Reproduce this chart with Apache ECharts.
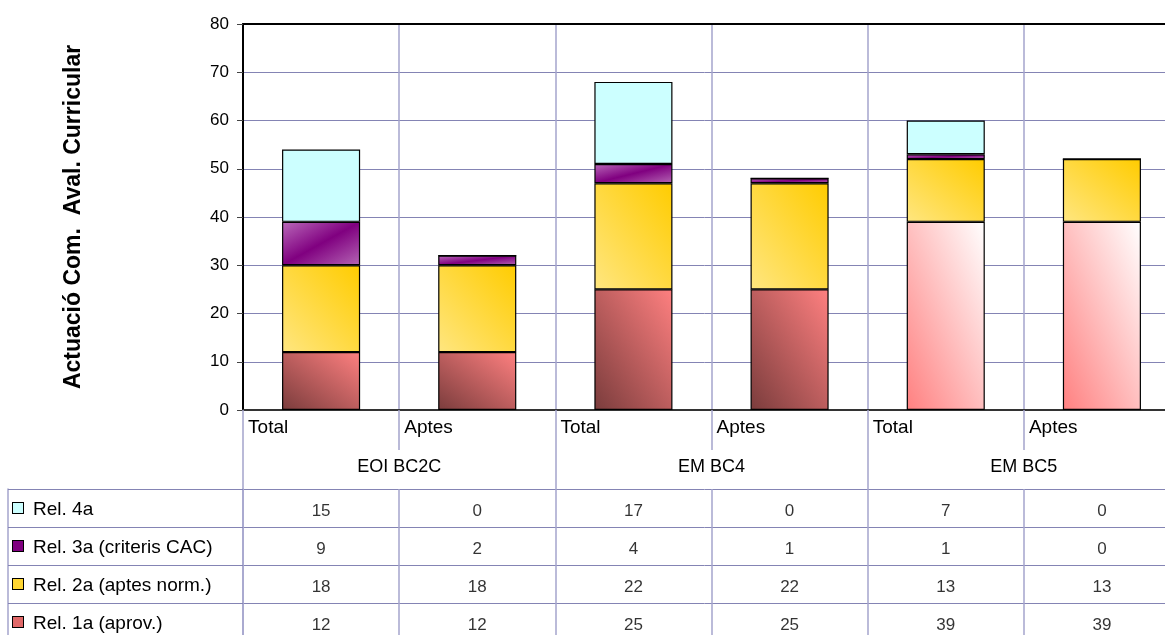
<!DOCTYPE html>
<html><head><meta charset="utf-8">
<script src="https://cdn.jsdelivr.net/npm/echarts/dist/echarts.min.js"></script>
<style>html,body{margin:0;padding:0;background:#fff}#c{width:1165px;height:635px}</style>
</head><body><div id="c"></div>
<script>
// ---- data ----
const categories = ['Total','Aptes','Total','Aptes','Total','Aptes'];
const groups = ['EOI BC2C','EM BC4','EM BC5'];
const rowNames = ['Rel. 4a','Rel. 3a (criteris CAC)','Rel. 2a (aptes norm.)','Rel. 1a (aprov.)'];
const rel4a = [15,0,17,0,7,0];
const rel3a = [9,2,4,1,1,0];
const rel2a = [18,18,22,22,13,13];
const rel1a = [12,12,25,25,39,39];
const yMin = 0, yMax = 80, yStep = 10;
const yTitle = 'Actuació Com.  Aval. Curricular';

// ---- layout / styles ----
const FONT = 'Liberation Sans, Arial, sans-serif';
const GRID_H = '#8484B4';
const GRID_V = '#A4A4CC';
const PLOT = {left:243, top:24, width:937, height:386};
const BAR_W = PLOT.width / categories.length * 0.5;
const PX_PER_UNIT = PLOT.height / (yMax - yMin);

// Excel-like diagonal gradients (iso-lines along the shape's diagonal)
function gradUp(v, c0, c1) { // bottom-left -> top-right
  const r = (v * PX_PER_UNIT) / BAR_W, q = 1 + r * r;
  return {type:'linear', x:0, y:1, x2:2*r*r/q, y2:1 - 2/q,
          colorStops:[{offset:0,color:c0},{offset:1,color:c1}]};
}
function gradDown(v, stops) { // top-left -> bottom-right
  const r = (v * PX_PER_UNIT) / BAR_W, q = 1 + r * r;
  return {type:'linear', x:0, y:0, x2:2*r*r/q, y2:2/q, colorStops:stops};
}
const purpleStops = [{offset:0,color:'#BA6ABA'},{offset:0.5,color:'#800080'},{offset:1,color:'#B466B4'}];
const border = {borderColor:'#000', borderWidth:1.2};
const markerColors = ['#CCFFFF','#800080','#FFD633','#E06868'];

const rows = [rel4a, rel3a, rel2a, rel1a];
const tableData = [];
rows.forEach((r, ri) => r.forEach((v, ci) => tableData.push([ci, ri, v])));

const legendRich = {t:{fontSize:19, fontFamily:FONT, color:'#000', padding:[3,0,0,10]}};
markerColors.forEach((c, i) => legendRich['m'+i] = {width:10, height:10, backgroundColor:c, borderColor:'#000', borderWidth:1});

const chart = echarts.init(document.getElementById('c'), null, {renderer:'canvas'});
chart.setOption({
  animation:false,
  backgroundColor:'#fff',
  textStyle:{fontFamily:FONT},
  grid:[
    Object.assign({outerBoundsMode:'none', containLabel:false}, PLOT),
    {left:243, top:489, width:937, height:152, outerBoundsMode:'none', containLabel:false}
  ],
  xAxis:[
    {type:'category', gridIndex:0, position:'bottom', data:categories,
     axisLine:{show:true, lineStyle:{color:'#333', width:2}},
     axisTick:{show:true, interval:0, length:40, lineStyle:{color:GRID_V, width:1.5}},
     splitLine:{show:true, interval:0, lineStyle:{color:GRID_V, width:1.5}},
     axisLabel:{interval:0, margin:8, color:'#000', fontSize:19, fontFamily:FONT,
       formatter:v => '{a|'+v+'}', rich:{a:{width:146, align:'left', fontSize:19, fontFamily:FONT, color:'#000'}}}},
    {type:'category', gridIndex:0, position:'bottom', data:groups,
     axisLine:{show:false},
     axisTick:{show:true, interval:0, length:79, lineStyle:{color:GRID_V, width:1.5}},
     splitLine:{show:false},
     axisLabel:{interval:0, margin:48, color:'#000', fontSize:18, fontFamily:FONT}},
    {type:'category', gridIndex:0, position:'top', data:groups,
     axisLine:{show:true, lineStyle:{color:'#000', width:2}},
     axisTick:{show:false}, axisLabel:{show:false}, splitLine:{show:false}},
    {type:'category', gridIndex:1, position:'top', data:categories,
     axisLine:{show:false}, axisTick:{show:false}, axisLabel:{show:false},
     splitLine:{show:true, interval:0, lineStyle:{color:GRID_V, width:1.5}}}
  ],
  yAxis:[
    {type:'value', gridIndex:0, min:yMin, max:yMax, interval:yStep,
     name:yTitle, nameLocation:'middle', nameRotate:90, nameGap:158,
     nameTextStyle:{fontSize:23, fontWeight:'bold', color:'#000', fontFamily:FONT},
     axisLine:{show:true, lineStyle:{color:'#000', width:2}},
     axisTick:{show:true, length:6, lineStyle:{color:'#444'}},
     splitLine:{show:true, lineStyle:{color:GRID_H, width:1}},
     axisLabel:{margin:14, color:'#000', fontSize:17, fontFamily:FONT}},
    {type:'category', gridIndex:1, data:rowNames, inverse:true,
     axisLine:{show:true, lineStyle:{color:GRID_V, width:1.5}},
     axisTick:{show:true, interval:0, length:235, lineStyle:{color:GRID_H, width:1}},
     splitLine:{show:true, interval:0, lineStyle:{color:GRID_H, width:1}},
     axisLabel:{interval:0, margin:230, align:'left', formatter:(v,i) => '{m'+i+'|}{t|'+v+'}', rich:legendRich}},
    {type:'category', gridIndex:1, data:rowNames, position:'left', offset:235,
     axisLine:{show:true, lineStyle:{color:GRID_V, width:1.5}},
     axisTick:{show:false}, axisLabel:{show:false}, splitLine:{show:false}}
  ],
  series:[
    {name:rowNames[3], type:'bar', stack:'s', barWidth:'50%', xAxisIndex:0, yAxisIndex:0,
     data:rel1a.map((v,i) => ({value:v, itemStyle:{color: i >= 4 ? gradUp(v,'#FF8080','#FFFFFF') : gradUp(v,'#7A3C3C','#FF8080')}})),
     itemStyle:border},
    {name:rowNames[2], type:'bar', stack:'s', barWidth:'50%', xAxisIndex:0, yAxisIndex:0,
     data:rel2a.map(v => ({value:v, itemStyle:{color:gradUp(v,'#FFE680','#FFCC00')}})),
     itemStyle:border},
    {name:rowNames[1], type:'bar', stack:'s', barWidth:'50%', xAxisIndex:0, yAxisIndex:0,
     data:rel3a.map(v => ({value:v, itemStyle:{color:gradDown(v, purpleStops)}})),
     itemStyle:border},
    {name:rowNames[0], type:'bar', stack:'s', barWidth:'50%', xAxisIndex:0, yAxisIndex:0,
     data:rel4a, itemStyle:Object.assign({color:'#CCFFFF'}, border)},
    {type:'scatter', xAxisIndex:3, yAxisIndex:1, symbolSize:1, data:tableData,
     itemStyle:{color:'rgba(0,0,0,0)'},
     label:{show:true, position:'inside', offset:[0,3], formatter:p => String(p.value[2]), color:'#000', fontSize:17, fontFamily:FONT}}
  ]
});
</script></body></html>
